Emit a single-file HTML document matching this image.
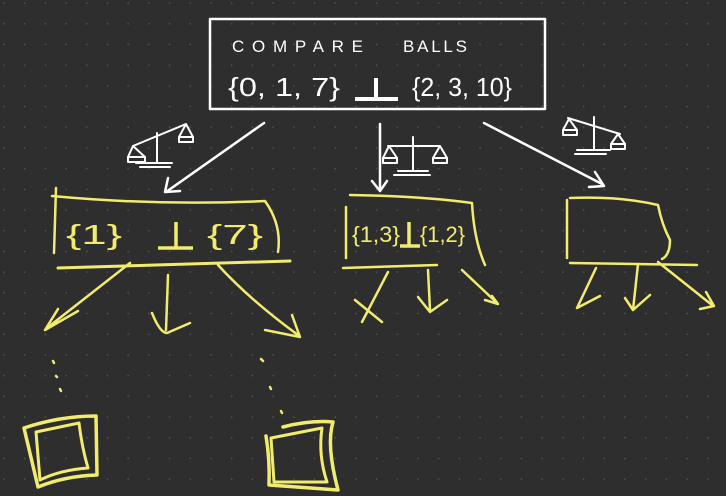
<!DOCTYPE html>
<html><head><meta charset="utf-8"><style>
html,body{margin:0;padding:0;background:#2e2e2e;}
svg{display:block}
</style></head><body>
<svg width="726" height="496" viewBox="0 0 726 496" xmlns="http://www.w3.org/2000/svg">
<defs><pattern id="d" width="20.7" height="20.7" patternUnits="userSpaceOnUse" x="3" y="2"><circle cx="1" cy="1" r="0.8" fill="#5a5a5a"/></pattern></defs>
<rect width="726" height="496" fill="#2e2e2e"/>
<rect width="726" height="496" fill="url(#d)"/>
<g fill="none" stroke="#fff" stroke-width="2.5" stroke-linecap="round" stroke-linejoin="round">
<rect x="210" y="19" width="335" height="90"/>
<line x1="264" y1="123" x2="166" y2="192"/><path d="M168 178 L165 192 L180 191"/>
<line x1="380" y1="124" x2="380" y2="190"/><path d="M372 181 L380 191 L387 181"/>
<line x1="484" y1="123" x2="602" y2="184"/><path d="M595 172 L604 186 L589 187"/>
</g>
<g fill="none" stroke="#fff" stroke-width="2" stroke-linecap="round" stroke-linejoin="round">
<!-- left scale -->
<path d="M133 146 L186 124 M157 133 L157 163 M136 163 L172 163 M140 167 L170 167"/>
<path d="M133 146 L128 157 L145 157 Z"/><rect x="128" y="157" width="17" height="5"/>
<path d="M186 124 L179 137 L193 137 Z"/><rect x="179" y="137" width="14" height="5"/>
<!-- center scale -->
<path d="M388 146 L440 146 M413 137 L413 171 M398 171 L428 171 M394 175 L430 175"/>
<path d="M389 146 L383 158 L397 158 Z"/><rect x="383" y="158" width="14" height="5"/>
<path d="M440 146 L433 158 L447 158 Z"/><rect x="433" y="158" width="14" height="5"/>
<!-- right scale -->
<path d="M568 118 L620 134 M594 117 L594 150 M577 150 L610 150 M575 154 L606 154"/>
<path d="M569 119 L563 130 L577 130 Z"/><rect x="563" y="130" width="14" height="5"/>
<path d="M618 134 L611 144 L625 144 Z"/><rect x="611" y="144" width="14" height="5"/>
</g>
<g fill="#fff" font-family="Liberation Sans, sans-serif">
<text x="232" y="52" font-size="17" letter-spacing="7" textLength="138" lengthAdjust="spacing">COMPARE</text>
<text x="403" y="52" font-size="17" letter-spacing="4" textLength="68" lengthAdjust="spacing">BALLS</text>
<text x="228" y="96" font-size="26" textLength="112" lengthAdjust="spacingAndGlyphs">{0, 1, 7}</text>
<text x="412" y="96" font-size="26" textLength="100" lengthAdjust="spacingAndGlyphs">{2, 3, 10}</text>
</g>
<path d="M376 78 L376 98 M355 99 L398 99" stroke="#fff" stroke-width="4" fill="none"/>
<g fill="none" stroke="#f2ec6e" stroke-width="2.5" stroke-linecap="round" stroke-linejoin="round">
<path d="M56 188 L54 253"/>
<path d="M52 196 Q160 206 265 201 Q282 225 278 252"/>
<path d="M58 268 L290 261" stroke-width="3"/>
<path d="M130 263 L47 328 M58 309 L45 330 L78 311"/>
<path d="M168 275 L166 330 M152 313 Q160 333 167 333 L190 323"/>
<path d="M218 265 Q250 300 298 335 M265 330 L300 337 L292 315"/>
<path d="M346 207 L346 258 M350 195 Q420 196 472 203 Q474 240 485 265"/>
<path d="M343 268 L437 265"/>
<path d="M388 272 L362 322 M355 300 L382 322"/>
<path d="M428 270 L430 310 M418 297 L430 312 L447 300"/>
<path d="M462 270 L497 303 M485 300 L498 304 L492 296"/>
<path d="M567 200 L567 258 M570 198 Q620 196 658 205 Q662 225 670 240 Q670 255 662 259"/>
<path d="M570 263 L697 265"/>
<path d="M596 268 L577 308 L600 296"/>
<path d="M638 264 L633 310 M625 298 L633 310 L650 295"/>
<path d="M658 262 L712 305 M700 309 L714 306 L706 292"/>
<path d="M53 361 l1 2 M56 376 l1 1 M60 389 l1 2 M261 359 l2 2 M270 387 l1 2 M281 411 l1 2"/>
</g>
<g fill="#f2ec6e" font-family="Liberation Sans, sans-serif">
<text x="66" y="244" font-size="28" textLength="56" lengthAdjust="spacingAndGlyphs">{1}</text>
<text x="207" y="244" font-size="28" textLength="56" lengthAdjust="spacingAndGlyphs">{7}</text>
<text x="352" y="242" font-size="22" textLength="48" lengthAdjust="spacingAndGlyphs">{1,3}</text>
<text x="420" y="242" font-size="22" textLength="45" lengthAdjust="spacingAndGlyphs">{1,2}</text>
</g>
<path d="M176 222 L176 247 M158 248 L193 248" stroke="#f2ec6e" stroke-width="3.5" fill="none"/>
<path d="M409 222 L409 245 M400 246 L420 246" stroke="#f2ec6e" stroke-width="3.5" fill="none"/>
<g fill="none" stroke="#f2ec6e" stroke-width="3.5" stroke-linejoin="round" stroke-linecap="round">
<path d="M24 428 Q60 416 96 416 L97 475 Q65 476 38 487 Z"/>
<path d="M36 432 L79 423 Q82 448 88 468 Q60 470 40 480 Z" stroke-width="3"/>
<path d="M283 427 Q310 420 333 422 Q326 445 338 490 L269 485 Q270 460 266 436"/>
<path d="M271 438 L322 428 Q318 455 327 482 L274 482 Z" stroke-width="3"/>
</g>
</svg>
</body></html>
